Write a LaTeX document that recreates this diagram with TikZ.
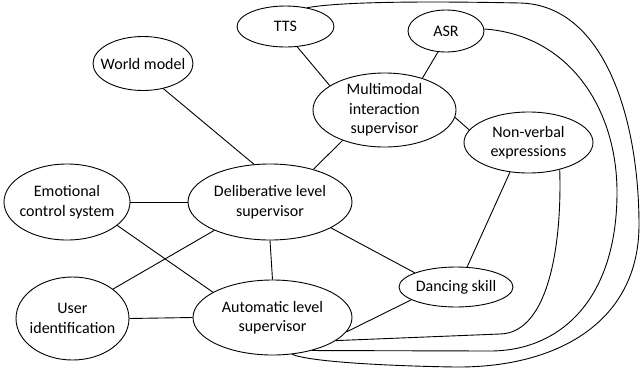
\documentclass[tikz,border=0pt]{standalone}
\usepackage{fontspec}
\setmainfont{Carlito}
\usetikzlibrary{shapes.geometric}
\begin{document}
\begin{tikzpicture}[x=1pt,y=-1pt,
  ell/.style={draw, ellipse, line width=0.9pt, inner sep=0pt},
  lbl/.style={align=center, inner sep=0pt, font=\fontsize{16}{19.5}\selectfont},
  link/.style={line width=0.9pt}]
\useasboundingbox (0,0) rectangle (641,373);

% ellipses (empty shapes) with their captions set on top
\node[ell, minimum width=100pt, minimum height=54pt] (world) at (143,63.5) {};
\node[ell, minimum width=97pt,  minimum height=41pt] (tts) at (285.5,26.5) {};
\node[ell, minimum width=76pt,  minimum height=42pt] (asr) at (446,31) {};
\node[ell, minimum width=143pt, minimum height=74pt] (multi) at (384.5,110) {};
\node[ell, minimum width=129pt, minimum height=61pt] (nonverbal) at (528.5,142.5) {};
\node[ell, minimum width=164pt, minimum height=76pt] (delib) at (270,202) {};
\node[ell, minimum width=126pt, minimum height=76pt] (emo) at (67,202) {};
\node[ell, minimum width=113pt, minimum height=83pt] (user) at (72.5,318.5) {};
\node[ell, minimum width=159pt, minimum height=75pt] (auto) at (272.5,317.5) {};
\node[ell, minimum width=114pt, minimum height=40pt] (dance) at (456,287) {};

\node[lbl] at (world) {World model};
\node[lbl] at (tts) {TTS};
\node[lbl] at (asr) {ASR};
\node[lbl] at (multi) {Multimodal\\interaction\\supervisor};
\node[lbl] at (nonverbal) {Non-verbal\\expressions};
\node[lbl] at (delib) {Deliberative level\\supervisor};
\node[lbl] at (emo) {Emotional\\control system};
\node[lbl] at (user) {User\\identification};
\node[lbl] at (auto) {Automatic level\\supervisor};
\node[lbl] at (dance) {Dancing skill};

% straight connectors
\draw[link] (world.-51) -- (delib.113);
\draw[link] (tts.-60) -- (multi.156);
\draw[link] (asr.249) -- (multi.40);
\draw[link] (multi.216) -- (delib.37);
\draw[link] (multi.-6) -- (nonverbal.168);
\draw[link] (nonverbal.238) -- (dance.61);
\draw[link] (delib.-23) -- (dance.161);
\draw[link] (dance.196) -- (auto.-11);
\draw[link] (emo.0) -- (delib.180);
\draw[link] (emo.-25) -- (auto.157);
\draw[link] (user.36) -- (delib.207);
\draw[link] (user.0) -- (auto.180);
\draw[link] (delib.-90) -- (auto.90);

% long curved connectors down to the automatic level
\draw[link] (nonverbal.-41) .. controls (562,240) and (550,333) .. (500,334) -- (auto.-20);
\draw[link] (asr.3) .. controls (570,35) and (618,110) .. (617,195)
  .. controls (616,300) and (560,351) .. (490,351) -- (auto.-40);
\draw[link] (tts.41) .. controls (350,0) and (470,2) .. (520,3)
  .. controls (605,5) and (639,120) .. (639,225)
  .. controls (639,320) and (560,368) .. (455,367)
  .. controls (390,366) and (310,362) .. (auto.-62);
\end{tikzpicture}
\end{document}
